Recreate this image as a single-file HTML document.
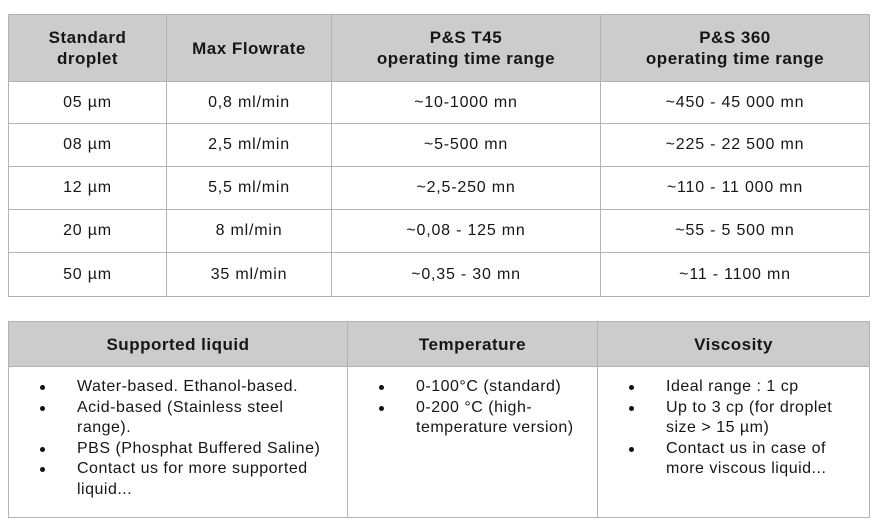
<!DOCTYPE html>
<html><head><meta charset="utf-8">
<style>
body{margin:0;width:879px;height:525px;background:#fff;position:relative;overflow:hidden;font-family:"Liberation Sans",sans-serif;color:#161616}
table{position:absolute;border-collapse:collapse;table-layout:fixed}
td,th{border:1.5px solid #b3b3b3;text-align:center;padding:0;font-size:16px;letter-spacing:0.8px}
th{background:#cccccc;font-weight:bold;font-size:17px;line-height:21px;letter-spacing:0.5px}
#t1{left:8px;top:14px;width:861px}
#t2{left:8px;top:321px;width:861px}
ul{list-style:none;margin:0;padding:0;text-align:left;font-size:16px;line-height:20.5px;letter-spacing:0.5px;white-space:nowrap}
li{position:relative;padding-left:68px}
li::before{content:"";position:absolute;left:31px;top:8px;width:5px;height:5px;border-radius:50%;background:#111}
.cell{vertical-align:top;padding-top:10px}
</style></head><body>
<table id="t1">
<colgroup><col style="width:158px"><col style="width:165px"><col style="width:269px"><col style="width:269px"></colgroup>
<tr style="height:67px"><th>Standard<br>droplet</th><th>Max Flowrate</th><th>P&amp;S T45<br>operating time range</th><th>P&amp;S 360<br>operating time range</th></tr>
<tr style="height:42px"><td>05 µm</td><td>0,8 ml/min</td><td>~10-1000 mn</td><td>~450 - 45 000 mn</td></tr>
<tr style="height:43px"><td>08 µm</td><td>2,5 ml/min</td><td>~5-500 mn</td><td>~225 - 22 500 mn</td></tr>
<tr style="height:43px"><td>12 µm</td><td>5,5 ml/min</td><td>~2,5-250 mn</td><td>~110 - 11 000 mn</td></tr>
<tr style="height:43px"><td>20 µm</td><td>8 ml/min</td><td>~0,08 - 125 mn</td><td>~55 - 5 500 mn</td></tr>
<tr style="height:44px"><td>50 µm</td><td>35 ml/min</td><td>~0,35 - 30 mn</td><td>~11 - 1100 mn</td></tr>
</table>
<table id="t2">
<colgroup><col style="width:339px"><col style="width:250px"><col style="width:272px"></colgroup>
<tr style="height:45px"><th>Supported liquid</th><th>Temperature</th><th>Viscosity</th></tr>
<tr style="height:151px">
<td class="cell"><ul><li>Water-based. Ethanol-based.</li><li>Acid-based (Stainless steel<br>range).</li><li>PBS (Phosphat Buffered Saline)</li><li>Contact us for more supported<br>liquid...</li></ul></td>
<td class="cell"><ul><li>0-100°C (standard)</li><li>0-200 °C (high-<br>temperature version)</li></ul></td>
<td class="cell"><ul><li>Ideal range : 1 cp</li><li>Up to 3 cp (for droplet<br>size &gt; 15 µm)</li><li>Contact us in case of<br>more viscous liquid...</li></ul></td>
</tr>
</table>
</body></html>
